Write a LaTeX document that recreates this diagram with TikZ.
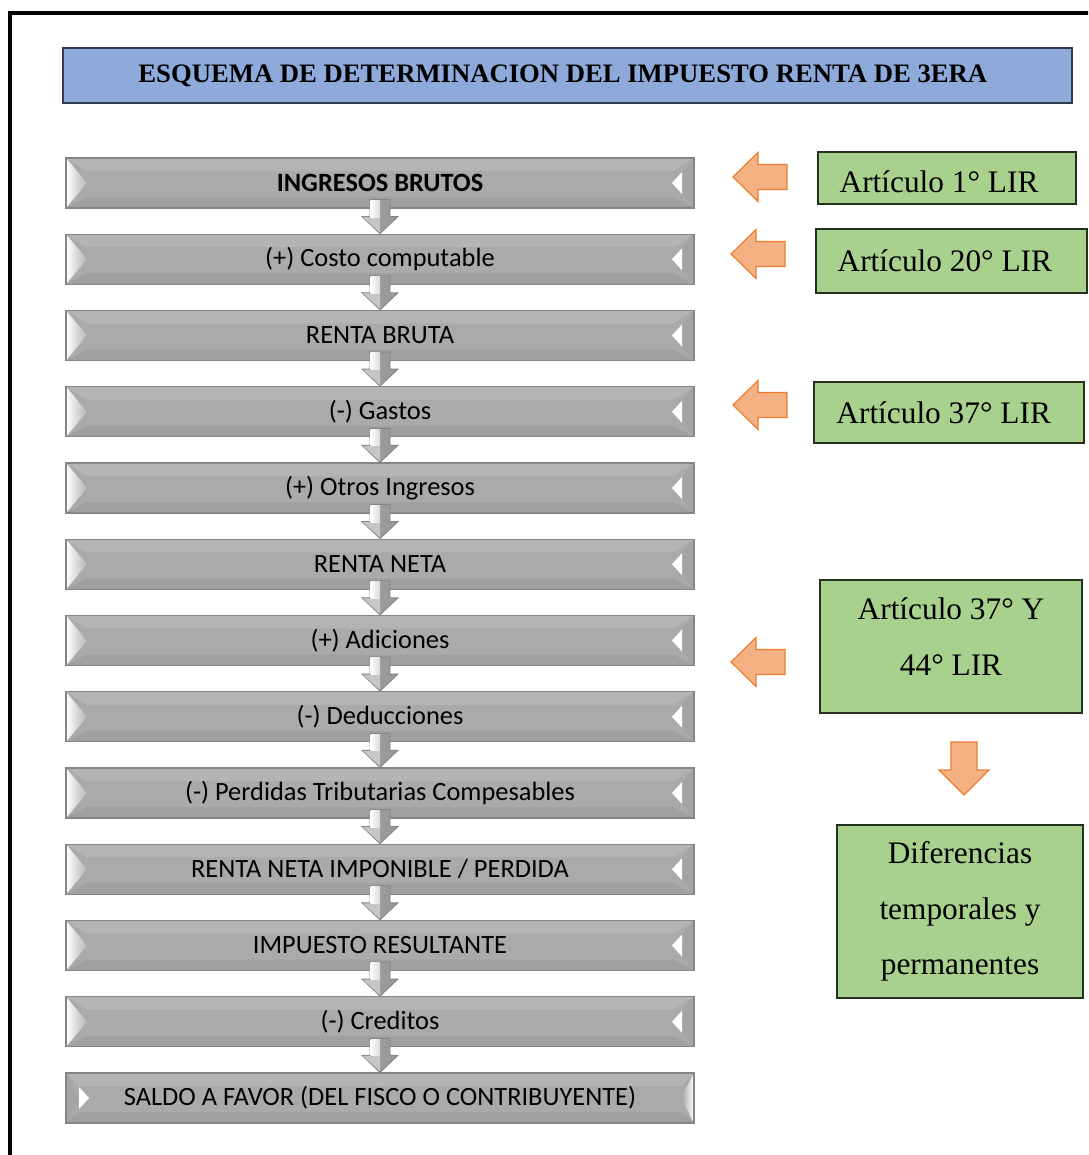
\documentclass[tikz,border=0pt]{standalone}
\usepackage{fontspec}
\setmainfont{Liberation Serif}
\newfontfamily\calib{Carlito}
\usetikzlibrary{calc}

\definecolor{titlefill}{HTML}{8EAADB}
\definecolor{titleedge}{HTML}{2F3A4C}
\definecolor{notefill}{HTML}{A9D18E}
\definecolor{noteedge}{HTML}{26301F}
\definecolor{arrowfill}{HTML}{F4B183}
\definecolor{arrowedge}{HTML}{ED7D31}
\definecolor{barbody}{HTML}{AAAAAA}
\definecolor{bartop}{HTML}{B4B4B4}
\definecolor{barbot}{HTML}{A0A0A0}
\definecolor{barside}{HTML}{A4A4A4}
\definecolor{barline}{HTML}{858585}
\definecolor{flowgray}{HTML}{9A9A9A}

% shift a line of text vertically without changing its box
\newcommand\liftline[2]{\raisebox{#1}[\height][\depth]{#2}}

\tikzset{
  barcommon/.style={draw=barline, line width=0.9pt, minimum width=471pt,
    minimum height=37.5pt, inner sep=0pt,
    font=\calib\fontsize{19.8}{24}\selectfont},
  % bevelled grey bar, light face on the left
  stepbar/.style={barcommon, path picture={
    \def\pb{path picture bounding box}
    \fill[barbody] (\pb.north west) rectangle (\pb.south east);
    \fill[bartop] (\pb.north west) -- (\pb.north east) -- ($(\pb.north east)+(-21,13)$) -- ($(\pb.north west)+(21,13)$) -- cycle;
    \fill[barbot] (\pb.south west) -- (\pb.south east) -- ($(\pb.south east)+(-21,-11)$) -- ($(\pb.south west)+(21,-11)$) -- cycle;
    \fill[barside] (\pb.north east) -- (\pb.south east) -- ($(\pb.east)+(-21,0)$) -- cycle;
    \shade[left color=white, right color=bartop] (\pb.north west) -- (\pb.south west) -- ($(\pb.west)+(21,0)$) -- cycle;
    \fill[white] ($(\pb.east)+(-12,-11)$) -- ($(\pb.east)+(-12,11)$) -- ($(\pb.east)+(-22,0)$) -- cycle;
  }},
  % the same bar with the light face on the right
  stepbarflip/.style={barcommon, path picture={
    \def\pb{path picture bounding box}
    \fill[barbody] (\pb.north west) rectangle (\pb.south east);
    \fill[bartop] (\pb.north west) -- (\pb.north east) -- ($(\pb.north east)+(-13,13)$) -- ($(\pb.north west)+(13,13)$) -- cycle;
    \fill[barbot] (\pb.south west) -- (\pb.south east) -- ($(\pb.south east)+(-13,-11)$) -- ($(\pb.south west)+(13,-11)$) -- cycle;
    \fill[barside] (\pb.north west) -- (\pb.south west) -- ($(\pb.west)+(13,0)$) -- cycle;
    \shade[right color=white, left color=barside] (\pb.north east) -- (\pb.south east) -- ($(\pb.east)+(-13,0)$) -- cycle;
    \fill[white] ($(\pb.west)+(13,-11)$) -- ($(\pb.west)+(13,11)$) -- ($(\pb.west)+(23,0)$) -- cycle;
  }},
  notebox/.style={draw=noteedge, line width=1.1pt, fill=notefill, inner sep=0pt,
    align=center, font=\fontsize{23.5}{41.5}\selectfont},
  blockarrow/.style={draw=arrowedge, line width=0.9pt, fill=arrowfill, line join=miter},
  flowarrow/.style={draw=barline, line width=0.6pt, fill=flowgray}
}

% small grey arrow leading from one bar to the next
\newcommand\flowdown[2]{%
  \draw[flowarrow] ($(#1.south)+(-10,-9)$) -- ($(#1.south)+(10,-9)$) -- ($(#1.south)+(10,8)$)
    -- ($(#1.south)+(18,8)$) -- (#2.north) -- ($(#1.south)+(-18,8)$) -- ($(#1.south)+(-10,8)$) -- cycle;
  \fill[gray!45] ($(#1.south)+(-17,8.6)$) -- ($(#1.south)+(0,8.6)$) -- ($(#2.north)+(0,-1)$) -- cycle;
  \shade[left color=white, right color=gray!30] ($(#1.south)+(-9.3,-8.3)$) rectangle ($(#1.south)+(0,8.6)$);
}

% orange block arrow pointing left, tip at (#1,#2)
\newcommand\noteleft[2]{%
  \draw[blockarrow] (#1,#2) -- ++(25,-24.5) -- ++(0,12) -- ++(29,0) -- ++(0,25) -- ++(-29,0) -- ++(0,12) -- cycle;
}

\begin{document}
\begin{tikzpicture}[x=0.75pt, y=-0.75pt]
\useasboundingbox (0,0) rectangle (1088,1155);
\clip (0,0) rectangle (1088,1155);
\fill[white] (0,0) rectangle (1088,1155);

% outer frame
\draw[line width=2.3pt] (1100,13) -- (10,13) -- (10,1170);

% title
\node[draw=titleedge, line width=1.1pt, fill=titlefill, minimum width=756.75pt,
  minimum height=41.25pt, inner sep=0pt, font=\bfseries\fontsize{20}{22}\selectfont]
  (title) at (567.5,75.5) {ESQUEMA DE DETERMINACION DEL IMPUESTO RENTA DE 3ERA\hspace*{7pt}};

% chain of steps
\node[stepbar] (b1)  at (380,183)    {\bfseries INGRESOS BRUTOS};
\node[stepbar] (b2)  at (380,259.25) {(+) Costo computable};
\node[stepbar] (b3)  at (380,335.5)  {RENTA BRUTA};
\node[stepbar] (b4)  at (380,411.75) {(-) Gastos};
\node[stepbar] (b5)  at (380,488)    {(+) Otros Ingresos};
\node[stepbar] (b6)  at (380,564.25) {RENTA NETA};
\node[stepbar] (b7)  at (380,640.5)  {(+) Adiciones};
\node[stepbar] (b8)  at (380,716.75) {(-) Deducciones};
\node[stepbar] (b9)  at (380,793)    {(-) Perdidas Tributarias Compesables};
\node[stepbar] (b10) at (380,869.25) {RENTA NETA IMPONIBLE / PERDIDA};
\node[stepbar] (b11) at (380,945.5)  {IMPUESTO RESULTANTE};
\node[stepbar] (b12) at (380,1021.75){(-) Creditos};
\node[stepbarflip] (b13) at (380,1098) {SALDO A FAVOR (DEL FISCO O CONTRIBUYENTE)};

\foreach \a/\b in {b1/b2,b2/b3,b3/b4,b4/b5,b5/b6,b6/b7,b7/b8,b8/b9,b9/b10,b10/b11,b11/b12,b12/b13}
  {\flowdown{\a}{\b}}

% legal references
\node[notebox, minimum width=193.5pt, minimum height=39pt]    (n1) at (947,178)    {\liftline{-3pt}{Artículo 1° LIR}\hspace*{12pt}};
\node[notebox, minimum width=203.25pt, minimum height=48pt]   (n2) at (951.5,261)  {Artículo 20° LIR\hspace*{10pt}};
\node[notebox, minimum width=202.5pt, minimum height=45.75pt] (n3) at (949,412.5)  {Artículo 37° LIR\hspace*{8pt}};
\node[notebox, minimum width=196.5pt, minimum height=99.75pt] (n4) at (951,646.5)  {\liftline{7.5pt}{Artículo 37° Y}\\\liftline{7.5pt}{44° LIR}};
\node[notebox, minimum width=184.5pt, minimum height=129.75pt](n5) at (960,911.5)  {Diferencias\\temporales y\\permanentes};

\noteleft{733}{177}
\noteleft{731}{254}
\noteleft{733}{405}
\noteleft{731}{662}

% arrow from the article box down to the differences box
\draw[blockarrow] (964,795) -- (989,770) -- (977,770) -- (977,742) -- (951,742) -- (951,770) -- (939,770) -- cycle;
\end{tikzpicture}
\end{document}
